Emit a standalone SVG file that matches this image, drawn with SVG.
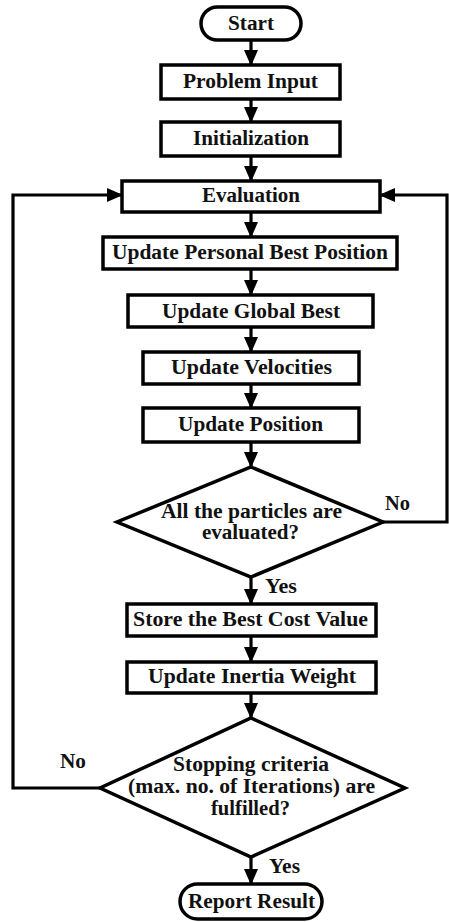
<svg xmlns="http://www.w3.org/2000/svg" width="449" height="922" viewBox="0 0 449 922">
<style>
.box{fill:#fff;stroke:#000;stroke-width:3.5}
.ln{fill:none;stroke:#000;stroke-width:3.2}
text{font-family:"Liberation Serif","Times New Roman",serif;font-weight:bold;font-size:20px;fill:#111;text-anchor:middle}
.lbl{text-anchor:start}
</style>
<defs>
<marker id="ah" markerUnits="userSpaceOnUse" markerWidth="16" markerHeight="14" refX="15" refY="7" orient="auto">
<path d="M0,0 L16,7 L0,14 z" fill="#000"/>
</marker>
</defs>
<rect width="449" height="922" fill="#fff"/>
<g id="connectors">
<line class="ln" x1="251" y1="40" x2="251" y2="65" marker-end="url(#ah)"/>
<line class="ln" x1="251" y1="99" x2="251" y2="122" marker-end="url(#ah)"/>
<line class="ln" x1="251" y1="156" x2="251" y2="181" marker-end="url(#ah)"/>
<line class="ln" x1="251" y1="212" x2="251" y2="237" marker-end="url(#ah)"/>
<line class="ln" x1="251" y1="269" x2="251" y2="295" marker-end="url(#ah)"/>
<line class="ln" x1="251" y1="327" x2="251" y2="352" marker-end="url(#ah)"/>
<line class="ln" x1="251" y1="384" x2="251" y2="408" marker-end="url(#ah)"/>
<line class="ln" x1="251" y1="442" x2="251" y2="467" marker-end="url(#ah)"/>
<line class="ln" x1="251" y1="577" x2="251" y2="604" marker-end="url(#ah)"/>
<line class="ln" x1="251" y1="636" x2="251" y2="662" marker-end="url(#ah)"/>
<line class="ln" x1="251" y1="693" x2="251" y2="718" marker-end="url(#ah)"/>
<line class="ln" x1="251" y1="857" x2="251" y2="884" marker-end="url(#ah)"/>
<polyline class="ln" points="383,522 447,522 447,195 380,195" marker-end="url(#ah)"/>
<polyline class="ln" points="100,788 13,788 13,195 122,195" marker-end="url(#ah)"/>
<text class="lbl" x="385" y="510" textLength="25" lengthAdjust="spacingAndGlyphs">No</text>
<text class="lbl" x="265" y="593" textLength="32" lengthAdjust="spacingAndGlyphs">Yes</text>
<text class="lbl" x="60" y="768" textLength="26" lengthAdjust="spacingAndGlyphs">No</text>
<text class="lbl" x="269" y="873" textLength="31" lengthAdjust="spacingAndGlyphs">Yes</text>
</g>
<g id="start">
<rect class="box" x="201" y="7" width="100" height="33" rx="16.5"/>
<text x="251" y="30" textLength="46" lengthAdjust="spacingAndGlyphs">Start</text>
</g>
<g id="problem-input">
<rect class="box" x="161" y="65" width="179" height="34"/>
<text x="250.5" y="88" textLength="135" lengthAdjust="spacingAndGlyphs">Problem Input</text>
</g>
<g id="initialization">
<rect class="box" x="161" y="122" width="179" height="34"/>
<text x="251" y="145" textLength="116" lengthAdjust="spacingAndGlyphs">Initialization</text>
</g>
<g id="evaluation">
<rect class="box" x="122" y="181" width="258" height="31"/>
<text x="251" y="202" textLength="98" lengthAdjust="spacingAndGlyphs">Evaluation</text>
</g>
<g id="update-personal-best">
<rect class="box" x="103" y="237" width="294" height="32"/>
<text x="250" y="259" textLength="276" lengthAdjust="spacingAndGlyphs">Update Personal Best Position</text>
</g>
<g id="update-global-best">
<rect class="box" x="128" y="295" width="245" height="32"/>
<text x="251" y="318" textLength="178" lengthAdjust="spacingAndGlyphs">Update Global Best</text>
</g>
<g id="update-velocities">
<rect class="box" x="143" y="352" width="216" height="32"/>
<text x="251.5" y="374" textLength="161" lengthAdjust="spacingAndGlyphs">Update Velocities</text>
</g>
<g id="update-position">
<rect class="box" x="143" y="408" width="216" height="34"/>
<text x="250.5" y="431" textLength="145" lengthAdjust="spacingAndGlyphs">Update Position</text>
</g>
<g id="decision-particles">
<polygon class="box" points="251,467 383,522 251,577 117,522"/>
<text x="251.5" y="518" textLength="181" lengthAdjust="spacingAndGlyphs">All the particles are</text>
<text x="250.5" y="539" textLength="97" lengthAdjust="spacingAndGlyphs">evaluated?</text>
</g>
<g id="store-best-cost">
<rect class="box" x="127" y="604" width="249" height="32"/>
<text x="250.5" y="626" textLength="235" lengthAdjust="spacingAndGlyphs">Store the Best Cost Value</text>
</g>
<g id="update-inertia">
<rect class="box" x="127" y="662" width="249" height="31"/>
<text x="252" y="683" textLength="208" lengthAdjust="spacingAndGlyphs">Update Inertia Weight</text>
</g>
<g id="decision-stopping">
<polygon class="box" points="251,718 405,788 251,857 100,788"/>
<text x="251" y="771" textLength="156" lengthAdjust="spacingAndGlyphs">Stopping criteria</text>
<text x="251.5" y="793" textLength="247" lengthAdjust="spacingAndGlyphs">(max. no. of Iterations) are</text>
<text x="250.5" y="815" textLength="79" lengthAdjust="spacingAndGlyphs">fulfilled?</text>
</g>
<g id="report-result">
<rect class="box" x="180" y="884" width="142" height="35" rx="17.5"/>
<text x="251.5" y="908" textLength="127" lengthAdjust="spacingAndGlyphs">Report Result</text>
</g>
</svg>
